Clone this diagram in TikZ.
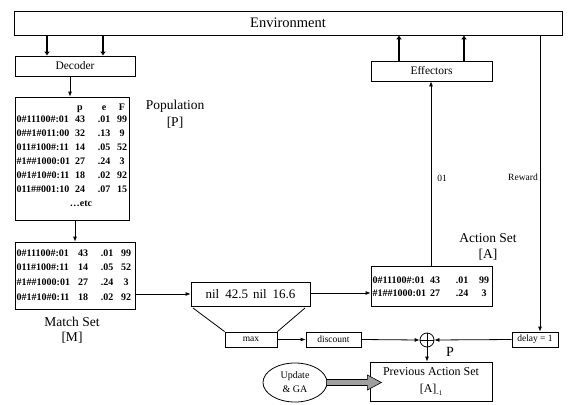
\documentclass[tikz,border=0pt]{standalone}
\usepackage{fontspec}
\setmainfont{Liberation Serif}
\usetikzlibrary{arrows.meta,shapes.geometric,calc}
\newcommand\trow[6]{%
  \node[tb,anchor=west] (#1c) at (\xc,#2) {#3};
  \node[tb] (#1p) at (\xp,#2) {#4};
  \node[tb] (#1e) at (\xe,#2) {#5};
  \node[tb] (#1f) at (\xf,#2) {#6};}
\begin{document}
\begin{tikzpicture}[x=1pt,y=-1pt,
  box/.style={draw,line width=0.8pt,inner sep=0pt,anchor=center},
  lbl/.style={inner sep=0pt,font=\fontsize{13.5}{14}\selectfont},
  sm/.style={inner sep=0pt,font=\fontsize{9.5}{10}\selectfont},
  mid/.style={font=\fontsize{11.5}{12}\selectfont},
  tb/.style={inner sep=0pt,text height=6.8pt,text depth=0pt,font=\fontsize{10}{10}\selectfont\bfseries},
  arr/.style={-{Latex[length=5pt,width=4pt]},line width=0.8pt},
  thk/.style={-{Latex[length=4pt,width=6pt]},line width=2.6pt}]
\useasboundingbox (0,0) rectangle (569,404);

% boxes
\node[box,minimum width=548pt,minimum height=24pt,font=\fontsize{14.5}{15}\selectfont] (env) at (288,23) {Environment};
\node[box,mid,minimum width=120pt,minimum height=20pt] (dec) at (75,66) {Decoder};
\node[box,mid,minimum width=121pt,minimum height=20pt] (eff) at (431.5,71) {Effectors};
\node[box,minimum width=114pt,minimum height=123pt] (pop) at (72,158.5) {};
\node[box,minimum width=120pt,minimum height=67pt] (match) at (75,275.5) {};
\node[box,minimum width=121pt,minimum height=40pt] (act) at (431.5,286) {};
\node[box,minimum width=119pt,minimum height=24pt,font=\fontsize{13}{13}\selectfont] (nil) at (250.5,294) {nil\hspace{6pt}42.5\hspace{5pt}nil\hspace{6pt}16.6};
\node[box,sm,minimum width=52pt,minimum height=15pt] (max) at (251,339.5) {max};
\node[box,sm,minimum width=55pt,minimum height=15pt] (disc) at (333.5,339.5) {discount};
\node[box,sm,minimum width=46pt,minimum height=15pt] (delay) at (535,339.5) {delay = 1};
\node[circle,draw,line width=0.8pt,minimum size=14pt,inner sep=0pt] (sum) at (427,340) {};
\node[box,minimum width=122pt,minimum height=39pt,align=center,font=\fontsize{12}{17}\selectfont] (prev) at (431,381.5) {Previous Action Set\\{}[A]\raisebox{-2.5pt}{\fontsize{7}{7}\selectfont -1}};
\node[ellipse,draw,line width=0.8pt,minimum width=64pt,minimum height=39pt,inner sep=0pt,align=center,font=\fontsize{10}{14}\selectfont] (upd) at (295,382.5) {Update\\\& GA};

% labels
\node[lbl] (poplbl) at (175,106) {Population};
\node[lbl] (poplbl2) at (175,123) {[P]};
\node[lbl] (mlbl) at (72,322) {Match Set};
\node[lbl] (mlbl2) at (72,338) {[M]};
\node[lbl] (albl) at (488,238) {Action Set};
\node[lbl] (albl2) at (488,255) {[A]};
\node[inner sep=0pt,font=\fontsize{14}{14}\selectfont] (plbl) at (450,352) {P};
\node[sm] (o1) at (442,178) {01};
\node[sm] (rw) at (523,177) {Reward};

% population table
\def\xc{16.5}\def\xp{80}\def\xe{104}\def\xf{122}
\node[tb] (hp) at (\xp,107) {p};
\node[tb] (he) at (\xe,107) {e};
\node[tb] (hf) at (\xf,107) {F};
\trow{pa}{119}{0\#11100\#:01}{43}{.01}{99}
\trow{pb}{133}{0\#\#1\#011:00}{32}{.13}{9}
\trow{pc}{147}{011\#100\#:11}{14}{.05}{52}
\trow{pd}{161}{\#1\#\#1000:01}{27}{.24}{3}
\trow{pe}{175}{0\#1\#10\#0:11}{18}{.02}{92}
\trow{pf}{189}{011\#\#001:10}{24}{.07}{15}
\node[tb] (etc) at (81,203) {…etc};

% match table
\def\xc{16.5}\def\xp{83}\def\xe{107}\def\xf{126}
\trow{ma}{253}{0\#11100\#:01}{43}{.01}{99}
\trow{mb}{267.5}{011\#100\#:11}{14}{.05}{52}
\trow{mc}{282}{\#1\#\#1000:01}{27}{.24}{3}
\trow{md}{297}{0\#1\#10\#0:11}{18}{.02}{92}

% action table
\def\xc{372.5}\def\xp{435}\def\xe{462}\def\xf{484}
\trow{aa}{280}{0\#11100\#:01}{43}{.01}{99}
\trow{ab}{293}{\#1\#\#1000:01}{27}{.24}{3}

% connector coordinates
\coordinate (a1) at (47,0);
\coordinate (a2) at (103,0);
\coordinate (a3) at (70,0);
\coordinate (a4) at (75,0);
\coordinate (b1) at (399,0);
\coordinate (b2) at (464,0);
\coordinate (b3) at (431,0);
\coordinate (rx) at (540,0);
\coordinate (ny) at (0,293);
\coordinate (nl) at (193,308);
\coordinate (nr) at (305,308);

\draw[thk] (a1 |- env.south) -- (a1 |- dec.north);
\draw[thk] (a2 |- env.south) -- (a2 |- dec.north);
\draw[arr] (a3 |- dec.south) -- (a3 |- pop.north);
\draw[arr] (a4 |- pop.south) -- (a4 |- match.north);
\draw[thk] (b1 |- eff.north) -- (b1 |- env.south);
\draw[thk] (b2 |- eff.north) -- (b2 |- env.south);
\draw[arr] (b3 |- act.north) -- (b3 |- eff.south);
\draw[arr] (rx |- env.south) -- (rx |- delay.north);
\draw[arr] (match.east |- nil.west) -- (nil.west);
\draw[arr] (nil.east |- ny) -- (act.west |- ny);
\draw[line width=0.8pt] (nl) -- (max.north west);
\draw[line width=0.8pt] (nr) -- (max.north east);
\draw[arr] (max.east) -- (disc.west);
\draw[arr] (disc.east) -- (sum.west);
\draw[arr] (delay.west) -- (sum.east);
\draw[arr] (sum.south) -- (sum.south |- prev.north);
\draw[line width=0.8pt] (sum.north) -- (sum.south);
\draw[line width=0.8pt] (sum.west) -- (sum.east);

% gray fat arrow
\draw[fill=gray!75,line width=0.6pt] ($(upd.east)+(-1,-3)$) -- ++(41,0) -- ++(0,-4.5) -- ++(14,7.5) -- ++(-14,7.5) -- ++(0,-4.5) -- ++(-41,0) -- cycle;
\end{tikzpicture}
\end{document}
